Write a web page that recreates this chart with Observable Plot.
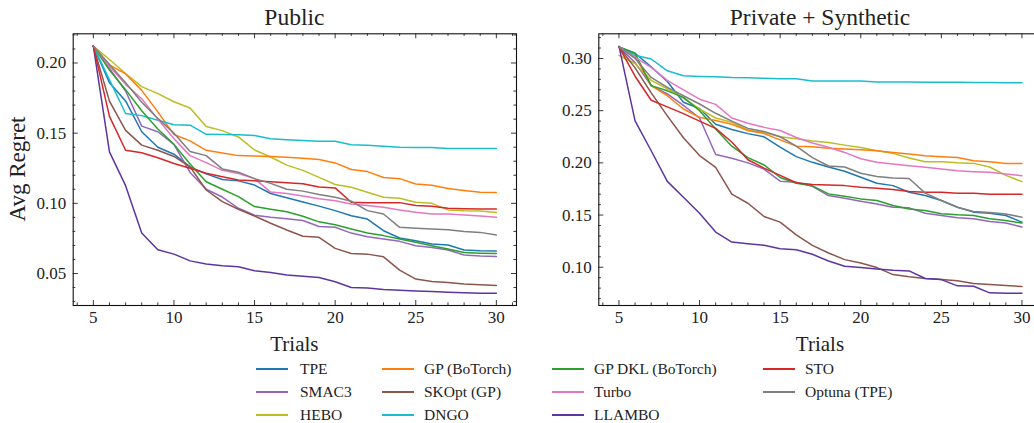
<!DOCTYPE html>
<html><head><meta charset="utf-8">
<script src="https://cdn.jsdelivr.net/npm/d3@7"></script>
<script src="https://cdn.jsdelivr.net/npm/@observablehq/plot@0.6"></script>
<style>
html,body{margin:0;padding:0;background:#fff;overflow:hidden}
#root{position:relative;width:1034px;height:423px;overflow:hidden;font-family:"Liberation Serif",serif;color:#000;background:#fff}
.abs{position:absolute;white-space:nowrap;line-height:1}
.panel{position:absolute;top:0;width:540px;height:330px}
.panel svg{max-width:none !important;width:540px !important;height:330px !important}
.panel svg text{font-family:"Liberation Serif",serif !important}
</style></head><body><div id="root"></div>
<script>
// ---------- data ----------
const trials = [5,6,7,8,9,10,11,12,13,14,15,16,17,18,19,20,21,22,23,24,25,26,27,28,29,30];
const methods = ["TPE","SMAC3","HEBO","GP (BoTorch)","SKOpt (GP)","DNGO","GP DKL (BoTorch)","Turbo","LLAMBO","STO","Optuna (TPE)"];
const colors = ["#1f77b4","#9467bd","#bcbd22","#ff7f0e","#8c564b","#17becf","#2ca02c","#e377c2","#5e35a0","#d62728","#7f7f7f"];
const panelTitles = ["Public","Private + Synthetic"];

// Public
const pubTPE    = [0.212,0.186,0.173,0.151,0.140,0.135,0.126,0.121,0.117,0.116,0.113,0.107,0.104,0.101,0.098,0.0948,0.0912,0.0888,0.0805,0.0753,0.0734,0.071,0.0703,0.0667,0.0662,0.0660];
const pubSMAC3  = [0.212,0.196,0.180,0.155,0.151,0.142,0.122,0.110,0.1045,0.0965,0.0915,0.090,0.089,0.0878,0.0835,0.0829,0.0788,0.0762,0.0746,0.0729,0.0698,0.0686,0.0667,0.0632,0.0625,0.0622];
const pubHEBO   = [0.212,0.2025,0.1925,0.1832,0.1782,0.1724,0.1679,0.1547,0.1518,0.1473,0.138,0.133,0.1272,0.1235,0.1185,0.1134,0.1115,0.1079,0.1043,0.1036,0.1008,0.100,0.0953,0.0948,0.0946,0.0934];
const pubGPB    = [0.212,0.1986,0.1922,0.1805,0.1652,0.149,0.1445,0.1378,0.1358,0.134,0.1338,0.1334,0.1328,0.1322,0.1312,0.1288,0.1241,0.1226,0.1184,0.1176,0.1138,0.1129,0.1105,0.1091,0.1079,0.1077];
const pubSKOpt  = [0.212,0.1728,0.152,0.1415,0.1378,0.1334,0.126,0.1095,0.1012,0.0958,0.091,0.0858,0.081,0.0765,0.0758,0.0679,0.0643,0.0638,0.0619,0.0524,0.046,0.0443,0.0436,0.0425,0.042,0.0415];
const pubDNGO   = [0.212,0.188,0.164,0.1625,0.1592,0.156,0.1557,0.1492,0.149,0.1488,0.1484,0.146,0.1453,0.1448,0.1443,0.1443,0.1417,0.1414,0.1407,0.140,0.1398,0.1398,0.139,0.139,0.139,0.139];
const pubGPDKL  = [0.212,0.195,0.181,0.166,0.153,0.142,0.128,0.1154,0.110,0.1048,0.0977,0.0958,0.094,0.0908,0.0868,0.0848,0.0817,0.0788,0.077,0.0746,0.0722,0.0698,0.0674,0.065,0.0645,0.0642];
const pubTurbo  = [0.212,0.1975,0.1848,0.1745,0.160,0.146,0.134,0.129,0.1235,0.1212,0.1176,0.108,0.107,0.1052,0.1033,0.1019,0.0995,0.0984,0.0972,0.0953,0.0936,0.0924,0.0924,0.0917,0.091,0.090];
const pubLLAMBO = [0.212,0.1367,0.1126,0.0788,0.0669,0.0638,0.059,0.0567,0.0555,0.0548,0.052,0.0507,0.049,0.048,0.0471,0.0441,0.040,0.0396,0.0386,0.0381,0.0376,0.0371,0.0366,0.0362,0.036,0.036];
const pubSTO    = [0.212,0.162,0.1378,0.136,0.1325,0.1284,0.125,0.1214,0.119,0.1166,0.1161,0.1154,0.1147,0.114,0.1116,0.111,0.1008,0.1005,0.1005,0.1005,0.0984,0.0979,0.0965,0.0962,0.096,0.096];
const pubOptuna = [0.212,0.199,0.186,0.172,0.1605,0.150,0.137,0.134,0.1245,0.1222,0.1176,0.1142,0.110,0.1087,0.1063,0.1043,0.1015,0.0948,0.0924,0.0829,0.0822,0.0817,0.0812,0.080,0.0793,0.0774];

// Private + Synthetic
const prvTPE    = [0.311,0.305,0.292,0.278,0.258,0.252,0.237,0.232,0.228,0.225,0.215,0.206,0.2005,0.196,0.1919,0.1862,0.1804,0.1782,0.1719,0.1687,0.1639,0.1575,0.1528,0.1518,0.1496,0.1432];
const prvSMAC3  = [0.311,0.296,0.274,0.266,0.255,0.243,0.208,0.2045,0.200,0.194,0.1825,0.1814,0.1775,0.1687,0.166,0.1633,0.1607,0.1575,0.1569,0.1518,0.1496,0.1474,0.1464,0.1439,0.1423,0.1385];
const prvHEBO   = [0.303,0.295,0.279,0.271,0.262,0.2516,0.243,0.239,0.2312,0.229,0.225,0.223,0.221,0.2195,0.217,0.2148,0.2116,0.2091,0.2046,0.2011,0.2011,0.2001,0.1995,0.196,0.188,0.182];
const prvGPB    = [0.311,0.3025,0.274,0.2643,0.2516,0.2436,0.2405,0.237,0.231,0.228,0.222,0.216,0.2154,0.2141,0.2132,0.2126,0.2116,0.21,0.2084,0.2068,0.2059,0.2052,0.2021,0.2011,0.1995,0.1995];
const prvSKOpt  = [0.311,0.291,0.267,0.245,0.224,0.207,0.1957,0.170,0.1613,0.1486,0.1432,0.131,0.121,0.1137,0.1073,0.1041,0.0997,0.093,0.0908,0.0892,0.0882,0.087,0.0844,0.0835,0.0825,0.0815];
const prvDNGO   = [0.311,0.303,0.2995,0.2882,0.2834,0.2828,0.2825,0.2818,0.2815,0.281,0.2806,0.2806,0.2784,0.2784,0.2784,0.2784,0.2775,0.2775,0.2775,0.2772,0.2772,0.2772,0.277,0.277,0.2768,0.2768];
const prvGPDKL  = [0.311,0.305,0.274,0.269,0.2627,0.250,0.2325,0.216,0.205,0.198,0.186,0.1805,0.178,0.1703,0.168,0.1655,0.1639,0.1591,0.1559,0.1544,0.1512,0.1502,0.1496,0.1464,0.1448,0.1423];
const prvTurbo  = [0.311,0.301,0.2914,0.279,0.270,0.261,0.256,0.243,0.238,0.234,0.231,0.2243,0.219,0.215,0.210,0.204,0.2005,0.1989,0.1973,0.1957,0.1941,0.1925,0.1916,0.1909,0.1893,0.1877];
const prvLLAMBO = [0.3118,0.2402,0.2116,0.1823,0.1671,0.1518,0.1337,0.1241,0.1226,0.121,0.1178,0.1168,0.1124,0.106,0.101,0.0997,0.0984,0.0971,0.0965,0.0892,0.0882,0.0822,0.0818,0.0755,0.0752,0.0752];
const prvSTO    = [0.311,0.283,0.260,0.2536,0.2472,0.240,0.233,0.220,0.203,0.195,0.188,0.181,0.1792,0.1788,0.1782,0.1766,0.1757,0.1744,0.1725,0.1719,0.1719,0.1709,0.1709,0.170,0.170,0.170];
const prvOptuna = [0.311,0.300,0.2818,0.2723,0.2643,0.2564,0.2475,0.240,0.233,0.230,0.225,0.216,0.205,0.197,0.196,0.190,0.187,0.1855,0.185,0.171,0.164,0.1575,0.1534,0.1524,0.151,0.148];

// ticks
const xMajor = [5,10,15,20,25,30];
const xMinor = [4,6,7,8,9,11,12,13,14,16,17,18,19,21,22,23,24,26,27,28,29,31];
const pubYMajor = [0.05,0.10,0.15,0.20];
const pubYMinor = [0.03,0.04,0.06,0.07,0.08,0.09,0.11,0.12,0.13,0.14,0.16,0.17,0.18,0.19,0.21,0.22];
const prvYMajor = [0.10,0.15,0.20,0.25,0.30];
const prvYMinor = [0.07,0.08,0.09,0.11,0.12,0.13,0.14,0.16,0.17,0.18,0.19,0.21,0.22,0.23,0.24,0.26,0.27,0.28,0.29,0.31,0.32];

const pubSeries = [pubTPE,pubSMAC3,pubHEBO,pubGPB,pubSKOpt,pubDNGO,pubGPDKL,pubTurbo,pubLLAMBO,pubSTO,pubOptuna];
const prvSeries = [prvTPE,prvSMAC3,prvHEBO,prvGPB,prvSKOpt,prvDNGO,prvGPDKL,prvTurbo,prvLLAMBO,prvSTO,prvOptuna];

// ---------- layout ----------
const W = 540, H = 330, MT = 33.3, MB = 25;
const FH = H - MT - MB;
const FONT = "'Liberation Serif', serif";
const root = document.getElementById("root");

function makePanel(series, yMajor, yMinor, ml, mr) {
  const data = methods.flatMap((m, i) => series[i].map((v, j) => ({method: m, trial: trials[j], value: v})));
  const ext = d3.extent(data, d => d.value);
  const pad = (ext[1] - ext[0]) * 0.05;
  const xr = trials[trials.length - 1] - trials[0];
  const xdom = [trials[0] - xr * 0.05, trials[trials.length - 1] + xr * 0.05];
  const FW = W - ml - mr;
  const tickStyle = {stroke: "#222", strokeWidth: 0.9};
  return Plot.plot({
    width: W, height: H, marginTop: MT, marginBottom: MB, marginLeft: ml, marginRight: mr,
    x: {domain: xdom, label: null},
    y: {domain: [ext[0] - pad, ext[1] + pad], label: null},
    color: {domain: methods, range: colors},
    style: {fontFamily: FONT, fontSize: "17px", background: "transparent", overflow: "visible", color: "#222"},
    marks: [
      Plot.line(data, {x: "trial", y: "value", stroke: "method", z: "method", strokeWidth: 1.5, strokeLinejoin: "round"}),
      Plot.frame({stroke: "#111", strokeWidth: 1.1}),
      Plot.tickX(xMajor, {x: d => d, insetTop: FH - 5, ...tickStyle}),
      Plot.tickX(xMajor, {x: d => d, insetBottom: FH - 5, ...tickStyle}),
      Plot.tickX(xMinor, {x: d => d, insetTop: FH - 2.6, ...tickStyle}),
      Plot.tickX(xMinor, {x: d => d, insetBottom: FH - 2.6, ...tickStyle}),
      Plot.tickY(yMajor, {y: d => d, insetRight: FW - 5, ...tickStyle}),
      Plot.tickY(yMajor, {y: d => d, insetLeft: FW - 5, ...tickStyle}),
      Plot.tickY(yMinor, {y: d => d, insetRight: FW - 2.6, ...tickStyle}),
      Plot.tickY(yMinor, {y: d => d, insetLeft: FW - 2.6, ...tickStyle}),
      Plot.axisX({ticks: xMajor, tickSize: 0, tickPadding: 5, tickFormat: d => String(d), label: null, fill: "#222", fontFamily: FONT, fontSize: 17}),
      Plot.axisY({ticks: yMajor, tickSize: 0, tickPadding: 7, tickFormat: d3.format(".2f"), label: null, fill: "#222", fontFamily: FONT, fontSize: 17})
    ]
  });
}

const panels = [
  {series: pubSeries, yMajor: pubYMajor, yMinor: pubYMinor, left: 0, ml: 72.7, mr: W - 516},
  {series: prvSeries, yMajor: prvYMajor, yMinor: prvYMinor, left: 540, ml: 58.3, mr: W - 58.3 - (516 - 72.7)}
];

panels.forEach((p, i) => {
  const svg = makePanel(p.series, p.yMajor, p.yMinor, p.ml, p.mr);
  const wrap = document.createElement("div");
  wrap.className = "panel";
  wrap.style.left = p.left + "px";
  wrap.appendChild(svg);
  root.appendChild(wrap);
  const cx = p.left + p.ml + (W - p.ml - p.mr) / 2;
  const t = document.createElement("div");
  t.className = "abs";
  t.textContent = panelTitles[i];
  t.style.cssText = `left:${cx}px;top:18px;transform:translate(-50%,-50%);font-size:23.5px;color:#222`;
  root.appendChild(t);
  const xl = document.createElement("div");
  xl.className = "abs";
  xl.textContent = "Trials";
  xl.style.cssText = `left:${cx}px;top:344px;transform:translate(-50%,-50%);font-size:21px;color:#222`;
  root.appendChild(xl);
});

const yl = document.createElement("div");
yl.className = "abs";
yl.textContent = "Avg Regret";
yl.style.cssText = "left:17px;top:169px;transform:translate(-50%,-50%) rotate(-90deg);font-size:23px;color:#222";
root.appendChild(yl);

// ---------- legend ----------
const colLine = [256, 382, 552, 763];
const colText = [300, 424, 594, 805];
const rowY = [368.5, 392, 415];
methods.forEach((m, i) => {
  const c = Math.floor(i / 3), r = i % 3;
  const ln = document.createElement("div");
  ln.className = "abs";
  ln.style.cssText = `left:${colLine[c]}px;top:${rowY[r] - 1}px;width:32px;height:0;border-top:2px solid ${colors[i]}`;
  root.appendChild(ln);
  const tx = document.createElement("div");
  tx.className = "abs";
  tx.textContent = m;
  tx.style.cssText = `left:${colText[c]}px;top:${rowY[r]}px;transform:translateY(-50%);font-size:15.5px;color:#222`;
  root.appendChild(tx);
});
</script></body></html>
